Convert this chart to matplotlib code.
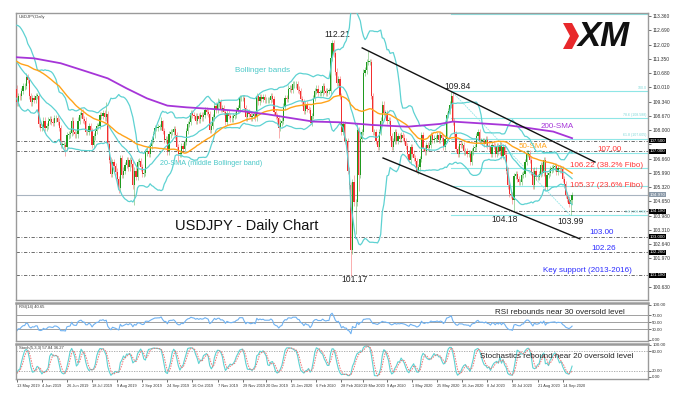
import numpy as np
import pandas as pd
import matplotlib
matplotlib.use("Agg")
import matplotlib.pyplot as plt
from matplotlib.patches import Polygon
import matplotlib.transforms as mtransforms

plt.rcParams['font.family'] = ['Liberation Sans', 'DejaVu Sans']

# ---------------- data ----------------
# closes before the visible window (used only to warm up indicators)
warmup_closes = [111.75, 111.90, 111.75, 111.60, 111.15,
                 111.25, 111.35, 111.20, 111.70, 111.50,
                 111.45, 111.40, 110.70, 110.80, 109.95,
                 109.95, 110.65, 110.55, 110.65, 110.85,
                 111.35, 111.35, 111.50, 111.65, 111.70,
                 111.50, 111.15, 110.95, 111.65, 112.00,
                 112.00, 112.00, 112.00, 111.95, 111.90,
                 111.95, 111.85, 112.20, 111.60, 111.55,
                 111.65, 111.45, 111.45, 111.50, 111.10,
                 110.70, 110.30, 110.10, 109.70, 109.95]

closes_2019 = [
    109.30, 109.60, 109.58, 109.85, 110.05,
    110.07, 110.50, 110.35, 109.60, 109.30,
    109.50, 109.40, 109.60, 109.60, 108.30,
    108.10, 108.15, 108.45, 108.10, 108.20,
    108.45, 108.50, 108.40, 108.35, 108.55,
    108.55, 108.40, 108.10, 107.30, 107.30,
    107.30, 107.20, 107.75, 107.80, 107.85,
    108.45, 107.90, 107.80, 107.80, 108.45,
    108.70, 108.80, 108.50, 108.45, 107.90,
    107.90, 108.20, 107.95, 107.30, 107.70,
    107.95, 108.20, 108.20, 108.70, 108.65,
    108.80, 108.60, 108.75, 107.35, 106.60,
    105.95, 106.50, 106.30, 106.05, 105.70,
    105.30, 106.70, 105.90, 106.10, 106.35,
    106.60, 106.25, 106.60, 106.40, 105.40,
    106.10, 105.80, 106.50, 106.55, 106.25,
    105.95, 106.00, 106.95, 107.00, 106.90,
    107.25, 107.55, 107.80, 108.10, 108.10,
    108.15, 108.15, 108.45, 107.95, 107.55,
    107.55, 107.00, 107.80, 107.90, 107.90,
    108.05, 107.75, 107.20, 106.90, 106.90,
    107.25, 107.10, 107.45, 107.95, 108.30,
    108.40, 108.80, 108.70, 108.65, 108.45,
    108.65, 108.50, 108.70, 108.60, 108.70,
    108.95, 108.85, 108.75, 108.00, 108.20,
    108.60, 109.15, 108.95, 109.25, 109.30,
    109.00, 109.05, 108.85, 108.40, 108.80,
    108.65, 108.55, 108.55, 108.65, 108.70,
    108.95, 109.05, 109.50, 109.50, 109.50,
    109.05, 108.60, 108.85, 108.75, 108.60,
    108.65, 108.75, 108.60, 109.60, 109.35,
    109.55, 109.45, 109.55, 109.40, 109.40,
    109.40, 109.40, 109.60, 109.45,
    108.85, 108.65, 108.55, 108.10,
]
closes_2020 = [
    108.35, 108.45, 109.10, 109.50, 109.45,
    109.95, 109.95, 109.90, 110.15, 110.15,
    110.15, 109.90, 109.85, 109.45, 109.30,
    108.90, 109.20, 109.00, 108.95, 108.35,
    108.65, 109.50, 109.85, 109.95, 109.75,
    109.75, 109.75, 110.05, 109.85, 109.75,
    109.85, 109.85, 111.40, 112.10, 111.60,
    110.75, 110.20, 110.40, 109.60, 107.90,
    108.30, 107.50, 107.50, 106.10, 105.40,
    102.35, 105.55, 104.60, 104.60, 108.00,
    105.90, 107.60, 107.90, 110.70, 110.80,
    111.20, 111.20, 111.20, 109.60, 107.90,
    107.90, 107.50, 107.20, 107.90, 108.45,
    109.20, 108.80, 108.80, 108.45, 108.45,
    107.70, 107.20, 107.50, 107.90, 107.50,
    107.70, 107.60, 107.75, 107.65, 107.50,
    107.25, 106.90, 106.60, 107.20, 106.90,
    106.70, 106.55, 106.10, 106.25, 106.65,
    107.75, 107.15, 107.00, 107.30, 107.15,
    107.30, 107.75, 107.55, 107.60, 107.60,
    107.75, 107.55, 107.75, 107.65, 107.20,
    107.60, 108.70, 108.90, 109.20, 109.60,
    108.40, 107.80, 107.10, 106.90, 107.35,
    107.30, 107.30, 107.00, 107.00, 106.90,
    106.90, 106.50, 107.00, 107.15, 107.20,
    107.70, 107.90, 107.50, 107.50, 107.50,
    107.35, 107.55, 107.25, 107.20, 106.90,
    107.30, 107.25, 106.90, 107.25, 107.00,
    107.30, 106.80, 107.20, 106.85, 106.10,
    105.40, 105.00, 104.95, 104.70, 105.85,
    105.95, 105.70, 105.55, 105.55, 105.90,
    105.95, 106.50, 106.90, 106.90, 106.60,
    106.05, 105.40, 106.10, 105.80, 105.80,
    105.95, 106.35, 106.00, 106.60, 105.35,
    105.90, 106.00, 106.15, 106.20, 106.25,
    106.30, 106.05, 106.20, 106.15, 106.15,
    105.70, 105.45, 104.95, 104.75, 104.55,
    104.70, 104.95,
]
closed_days = ['2019-12-25', '2020-01-01']

high_marks = {'2019-05-21': 110.67, '2019-07-10': 108.99, '2019-07-31': 109.32,
              '2019-09-19': 108.48, '2019-11-07': 109.49, '2019-12-13': 109.70,
              '2020-01-17': 110.29, '2020-02-20': 112.21, '2020-03-11': 105.90,
              '2020-03-13': 108.31, '2020-03-24': 111.71, '2020-04-06': 109.38,
              '2020-06-05': 109.84, '2020-08-13': 107.05}
low_marks = {'2019-06-25': 106.78, '2019-08-12': 105.05, '2019-08-26': 104.46,
             '2019-10-03': 106.48, '2020-01-03': 107.65, '2020-01-31': 108.31,
             '2020-03-09': 101.17, '2020-03-12': 103.10, '2020-03-16': 105.15,
             '2020-05-06': 105.99, '2020-07-31': 104.18, '2020-09-21': 103.99}
wick = 0.15

# 200-SMA (bar index, value)
sma200_idx = [0, 11, 28, 45, 58, 70, 83, 96, 108, 125, 142, 160, 176, 189,
              205, 227, 249, 270, 278, 295, 312, 325, 342, 354]
sma200_val = [111.42, 111.37, 111.14, 110.74, 110.43, 109.96, 109.49, 109.15,
              109.07, 108.99, 108.90, 108.74, 108.55, 108.40, 108.37, 108.24,
              108.16, 108.29, 108.40, 108.32, 108.24, 108.11, 107.93, 107.62]

level_lines = [107.50, 107.00, 104.18, 103.00, 102.26, 101.18]
last_price = 104.97
fib_low, fib_high = 103.99, 109.84
fib_ratios = [1.618, 1.0, 0.786, 0.618, 0.5, 0.382, 0.236, 0.0]
fib_start_date = '2020-06-05'
fib_end_date = '2020-09-21'

channel_upper = [(220.2, 111.86), (368.6, 106.50)]
channel_lower = [(233.5, 106.69), (359.0, 102.89)]

price_ticks = [113.36, 112.69, 112.02, 111.35, 110.68, 110.01, 109.34, 108.67,
               108.00, 107.33, 106.66, 105.99, 105.32, 104.65, 103.98, 103.31,
               102.64, 101.97, 101.30, 100.63]
date_labels = ['2019-05-13', '2019-06-04', '2019-06-26', '2019-07-18', '2019-08-09',
               '2019-09-02', '2019-09-24', '2019-10-16', '2019-11-07', '2019-11-29',
               '2019-12-20', '2020-01-15', '2020-02-06', '2020-02-28', '2020-03-19',
               '2020-04-09', '2020-05-01', '2020-05-25', '2020-06-16', '2020-07-08',
               '2020-07-30', '2020-08-21', '2020-09-14']

# ---------------- build series ----------------
closes = closes_2019 + closes_2020
dates = pd.bdate_range('2019-05-13', '2020-09-22')
dates = dates[~dates.isin(pd.to_datetime(closed_days))]
n = min(len(dates), len(closes))
dates = dates[:n]
closes = closes[:n]

all_c = np.array(warmup_closes + closes, dtype=float)
all_o = np.concatenate([[all_c[0]], all_c[:-1]])
all_h = np.maximum(all_o, all_c) + wick
all_l = np.minimum(all_o, all_c) - wick
nw = len(warmup_closes)
date_str = [d.strftime('%Y-%m-%d') for d in dates]
for k, ds in enumerate(date_str):
    if ds in high_marks:
        all_h[nw + k] = high_marks[ds]
    if ds in low_marks:
        all_l[nw + k] = low_marks[ds]

s = pd.Series(all_c)
mid = s.rolling(20).mean()
sd = s.rolling(20).std(ddof=0)
bb_up = (mid + 2 * sd).values[nw:]
bb_lo = (mid - 2 * sd).values[nw:]
bb_mid = mid.values[nw:]
sma50 = s.rolling(50).mean().values[nw:]

delta = s.diff()
gain = delta.clip(lower=0).ewm(alpha=1 / 14, adjust=False).mean()
loss = (-delta.clip(upper=0)).ewm(alpha=1 / 14, adjust=False).mean()
rsi = (100 - 100 / (1 + gain / loss)).values[nw:]

hs, ls = pd.Series(all_h), pd.Series(all_l)
hh = hs.rolling(5).max()
ll = ls.rolling(5).min()
stoch_main = ((s - ll).rolling(3).sum() / (hh - ll).rolling(3).sum() * 100)
stoch_sig = stoch_main.rolling(3).mean()
stoch_main = stoch_main.values[nw:]
stoch_sig = stoch_sig.values[nw:]

o = all_o[nw:]
c = all_c[nw:]
h = all_h[nw:]
l = all_l[nw:]
x = np.arange(n)

# ---------------- figure ----------------
W, H = 679, 398
fig = plt.figure(figsize=(W / 100, H / 100), dpi=100)
fig.patch.set_facecolor('white')


def rect(x0, y0, x1, y1):
    return [x0 / W, 1 - y1 / H, (x1 - x0) / W, (y1 - y0) / H]


ax = fig.add_axes(rect(16, 13, 648, 300))
ax_r = fig.add_axes(rect(16, 303, 648, 341), sharex=ax)
ax_s = fig.add_axes(rect(16, 344, 648, 379), sharex=ax)

frame_col = '#9a9a9a'
for a in (ax, ax_r, ax_s):
    for sp in a.spines.values():
        sp.set_color(frame_col)
        sp.set_linewidth(1.0)
    a.yaxis.tick_right()
    a.tick_params(axis='y', labelsize=3.5, length=2, width=0.5, pad=1,
                  colors='#333333')
    a.tick_params(axis='x', bottom=False, labelbottom=False)
ax_r.spines['top'].set_linewidth(1.8)
ax_s.spines['top'].set_linewidth(1.8)

XMAX = 402.4
ax.set_xlim(-0.5, XMAX)
ax.set_ylim(100.02, 113.50)

# candles
up = c >= o
green, red = '#1f9a1f', '#f23030'
cols = np.where(up, green, red)
ax.vlines(x, l, h, colors=cols, linewidth=0.6, alpha=0.45, zorder=2)
body_b = np.minimum(o, c)
body_h = np.maximum(np.abs(c - o), 0.03)
ax.bar(x, body_h, bottom=body_b, width=0.75, color=cols, linewidth=0, zorder=3)

# indicators
bb_col = '#5ed2d2'
ax.plot(x, bb_up, color=bb_col, lw=0.9, zorder=4)
ax.plot(x, bb_lo, color=bb_col, lw=0.9, zorder=4)
ax.plot(x, bb_mid, color=bb_col, lw=0.9, zorder=4)
ax.plot(x, sma50, color='#ffa31a', lw=1.0, zorder=5)
ax.plot(sma200_idx, sma200_val, color='#a635d8', lw=1.3, zorder=5)

# horizontal levels
for lv in level_lines:
    ax.axhline(lv, color='#555555', lw=0.6, ls=(0, (4, 2, 1, 2)), zorder=1)
ax.axhline(last_price, color='#a8b4c0', lw=0.8, zorder=1)

# fibonacci
fib_i0 = date_str.index(fib_start_date)
fib_i1 = date_str.index(fib_end_date)
fib_col = '#8fe6e6'
for r in fib_ratios:
    lv = fib_low + r * (fib_high - fib_low)
    ax.plot([fib_i0, XMAX], [lv, lv], color=fib_col, lw=0.8, zorder=1)
    if r not in (0.382, 0.236, 0.5, 1.618):
        txt = '100.0' if r == 1.0 else f'{r*100:.1f} ({lv:.3f})'
        ax.text(XMAX - 1, lv + 0.05, txt, fontsize=2.6, color='#7fd8d8',
                ha='right', va='bottom', zorder=6)
ax.plot([fib_i0, fib_i1], [fib_high, fib_low], color=fib_col, lw=0.6,
        ls=(0, (2, 1)), zorder=1)

# channel
ax.plot(*zip(*channel_upper), color='#111111', lw=1.0, zorder=6)
ax.plot(*zip(*channel_lower), color='#111111', lw=1.0, zorder=6)

# price axis (labels hidden where a level box sits on top of them)
box_levels = level_lines + [last_price]
shown = [p for p in price_ticks if min(abs(p - b) for b in box_levels) > 0.2]
ax.set_yticks(price_ticks)
ax.set_yticklabels([f'{p:.3f}' if p in shown else '' for p in price_ticks])
btrans = mtransforms.blended_transform_factory(ax.transAxes, ax.transData)
for lv in level_lines:
    ax.text(1.003, lv, f'{lv:.3f}', transform=btrans, fontsize=3.2, color='white',
            va='center', ha='left', zorder=10,
            bbox=dict(boxstyle='square,pad=0.15', fc='black', ec='none'))
ax.text(1.003, last_price, f'{last_price:.3f}', transform=btrans, fontsize=3.2,
        color='white', va='center', ha='left', zorder=10,
        bbox=dict(boxstyle='square,pad=0.15', fc='#8a99a8', ec='none'))

# annotations
fs = 5.8
ax.text(204.3, 112.51, '112.21', fontsize=fs + 0.4, color='#222222', ha='center', va='center')
ax.text(280.7, 110.07, '109.84', fontsize=fs + 0.4, color='#222222', ha='center', va='center')
ax.text(215.4, 100.96, '101.17', fontsize=fs + 0.4, color='#222222', ha='center', va='center')
ax.text(311.0, 103.78, '104.18', fontsize=fs + 0.4, color='#222222', ha='center', va='center')
ax.text(353.0, 103.70, '103.99', fontsize=fs + 0.4, color='#222222', ha='center', va='center')
ax.text(156.5, 110.78, 'Bollinger bands', fontsize=fs, color='#4cc8c8', ha='center', va='center')
ax.text(124.0, 106.41, '20-SMA (middle Bollinger band)', fontsize=fs - 0.6, color='#4cc8c8',
        ha='center', va='center')
ax.text(146.3, 103.50, 'USDJPY - Daily Chart', fontsize=10.5, color='#111111',
        ha='center', va='center')
ax.text(344.7, 108.16, '200-SMA', fontsize=fs, color='#a635d8', ha='center', va='center')
ax.text(329.0, 107.25, '50-SMA', fontsize=fs, color='#ffa31a', ha='center', va='center')
red_t = '#ff3535'
ax.text(378.0, 107.11, '107.00', fontsize=fs, color=red_t, ha='center', va='center')
ax.text(376.0, 106.36, '106.22 (38.2% Fibo)', fontsize=fs, color=red_t, ha='center', va='center')
ax.text(376.0, 105.42, '105.37 (23.6% Fibo)', fontsize=fs, color=red_t, ha='center', va='center')
blue_t = '#2b2bff'
ax.text(373.0, 103.18, '103.00', fontsize=fs, color=blue_t, ha='center', va='center')
ax.text(374.0, 102.45, '102.26', fontsize=fs, color=blue_t, ha='center', va='center')
ax.text(363.8, 101.40, 'Key support (2013-2016)', fontsize=fs, color=blue_t,
        ha='center', va='center')
ax.text(0.004, 0.992, 'USDJPY,Daily', transform=ax.transAxes, fontsize=3.0,
        color='#333333', ha='left', va='top')

# RSI panel
ax_r.set_ylim(-2.9, 105.7)
ax_r.plot(x, rsi, color='#6fb2f2', lw=0.8)
for lv in (70, 50, 30):
    ax_r.axhline(lv, color='#a0a0a0', lw=0.7, zorder=0)
ax_r.set_yticks([100, 70, 50, 30, 0])
ax_r.set_yticklabels(['100.00', '70.00', '50.00', '30.00', '0.00'])
ax_r.tick_params(axis='y', labelsize=3.2)
ax_r.text(0.004, 0.95, 'RSI(14) 40.65', transform=ax_r.transAxes, fontsize=3.0,
          color='#333333', ha='left', va='top')
ax_r.text(346.3, 78, 'RSI rebounds near 30 oversold level', fontsize=fs,
          color='#222222', ha='center', va='center')

# Stochastic panel
ax_s.set_ylim(-6.25, 103.1)
ax_s.plot(x, stoch_main, color='#5ed2d2', lw=0.8)
ax_s.plot(x, stoch_sig, color='#f07070', lw=0.7, ls=(0, (1.5, 1.2)))
for lv in (80, 20):
    ax_s.axhline(lv, color='#a0a0a0', lw=0.6, ls=(0, (1.5, 1.5)), zorder=0)
ax_s.set_yticks([100, 80, 20, 0])
ax_s.set_yticklabels(['100.00', '80.00', '20.00', '0.00'])
ax_s.tick_params(axis='y', labelsize=3.2)
ax_s.text(0.004, 0.95, 'Stoch(5,3,3) 57.84 36.27', transform=ax_s.transAxes,
          fontsize=3.0, color='#333333', ha='left', va='top')
ax_s.text(344.4, 63.4, 'Stochastics rebound near 20 oversold level', fontsize=fs,
          color='#222222', ha='center', va='center')

# date axis
pos, labs = [], []
for ds in date_labels:
    if ds in date_str:
        d = pd.Timestamp(ds)
        pos.append(date_str.index(ds))
        labs.append(f"{d.day} {d.strftime('%b %Y')}")
ax_s.set_xticks(pos)
ax_s.set_xticklabels(labs)
ax_s.tick_params(axis='x', bottom=True, labelbottom=True, labelsize=2.8, length=2,
                 width=0.5, pad=1.5, colors='#333333')
for t in ax_s.get_xticklabels():
    t.set_ha('left')
ax.tick_params(axis='x', bottom=False, labelbottom=False)
ax_r.tick_params(axis='x', bottom=False, labelbottom=False)

# XM logo
logo = Polygon([(563 / W, 1 - 23 / H), (572 / W, 1 - 23 / H), (579 / W, 1 - 36 / H),
                (572 / W, 1 - 49 / H), (563 / W, 1 - 49 / H), (570 / W, 1 - 36 / H)],
               closed=True, transform=fig.transFigure, fc='#e8282b', ec='none')
fig.patches.append(logo)
fig.text(604 / W, 1 - 36.5 / H, 'XM', fontsize=25, fontweight='heavy',
         fontstyle='italic', ha='center', va='center', color='#111111',
         family=['Liberation Sans', 'DejaVu Sans'])

fig.savefig('out.png', dpi=100, facecolor='white')
